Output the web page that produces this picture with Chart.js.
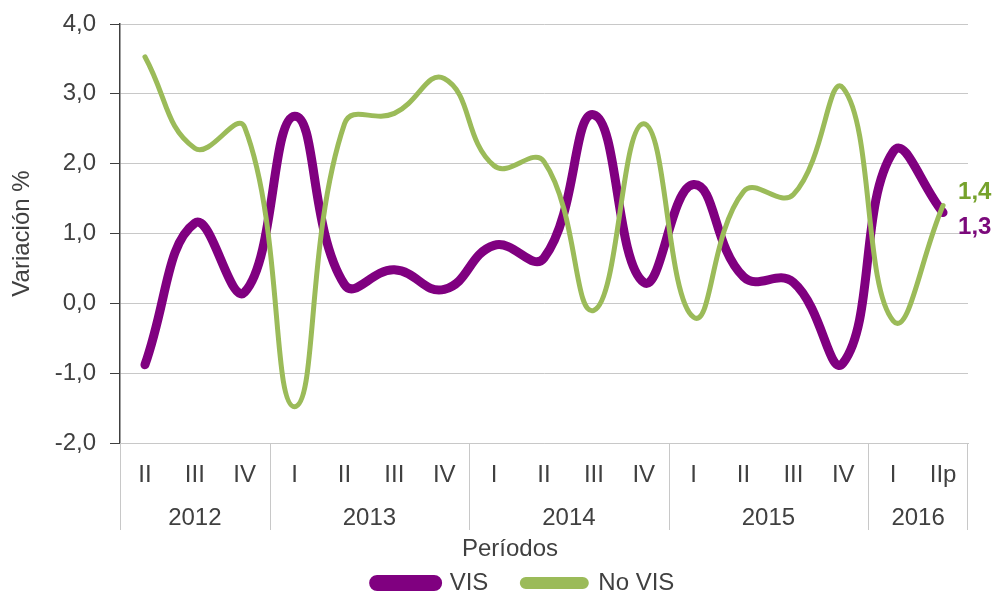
<!DOCTYPE html>
<html>
<head>
<meta charset="utf-8">
<script src="https://cdn.jsdelivr.net/npm/chart.js@4.4.1/dist/chart.umd.min.js"></script>
<style>
  html, body { margin: 0; padding: 0; background: #fff; }
  #wrap { width: 998px; height: 597px; position: relative; }
</style>
</head>
<body>
<div id="wrap"><canvas id="variacionChart"></canvas></div>
<script>
// quarters and years (multi-level category axis)
var quarters = ['II', 'III', 'IV', 'I', 'II', 'III', 'IV', 'I', 'II', 'III', 'IV', 'I', 'II', 'III', 'IV', 'I', 'IIp'];
var years = ['2012', '2013', '2014', '2015', '2016'];
var yearCounts = [3, 4, 4, 4, 2];

// series values (%)
var vis = [-0.88, 1.15, 0.16, 2.68, 0.27, 0.48, 0.2, 0.83, 0.65, 2.7, 0.3, 1.7, 0.38, 0.3, -0.85, 2.17, 1.3];
var noVis = [3.53, 2.22, 2.52, -1.48, 2.57, 2.72, 3.22, 1.97, 2.03, -0.1, 2.57, -0.2, 1.6, 1.56, 3.08, -0.25, 1.4];

var yTicks = [-2, -1, 0, 1, 2, 3, 4];
var xTitle = 'Períodos';
var yTitle = 'Variación %';

var FONT = "'Liberation Sans', Arial, sans-serif";
var TEXT = '#404040';
var PURPLE = '#800080';
var GREEN = '#9BBB59';

function fmt(v) {
    return v.toFixed(1).replace('.', ',');
}

// year row, separators and axis title under the quarter labels
var yearAxis = {
    id: 'yearAxis',
    afterLayout: function (chart) {
        // legend sits a bit left of the plot centre in the original
        chart.legend.left -= 20;
        chart.legend.right -= 20;
    },
    afterDraw: function (chart) {
        var ctx = chart.ctx;
        var x = chart.scales.x;
        var area = chart.chartArea;
        var half = (x.getPixelForValue(1) - x.getPixelForValue(0)) / 2;
        var top = area.bottom;
        var bottom = top + 87;
        ctx.save();
        ctx.strokeStyle = '#c8c8c8';
        ctx.lineWidth = 1;
        ctx.fillStyle = TEXT;
        ctx.font = '24px ' + FONT;
        ctx.textAlign = 'center';
        ctx.textBaseline = 'middle';
        var start = 0;
        for (var i = 0; i < years.length; i++) {
            var end = start + yearCounts[i] - 1;
            var x0 = x.getPixelForValue(start) - half;
            var x1 = x.getPixelForValue(end) + half;
            ctx.beginPath();
            ctx.moveTo(Math.round(x0) + 0.5, top);
            ctx.lineTo(Math.round(x0) + 0.5, bottom);
            if (i === years.length - 1) {
                ctx.moveTo(Math.round(x1) - 0.5, top);
                ctx.lineTo(Math.round(x1) - 0.5, bottom);
            }
            ctx.stroke();
            ctx.fillText(years[i], (x0 + x1) / 2, top + 75);
            start = end + 1;
        }
        ctx.fillText(xTitle, (area.left + area.right) / 2 - 34, top + 106);
        ctx.restore();
    }
};

// last values next to the line ends
var endLabels = {
    id: 'endLabels',
    afterDatasetsDraw: function (chart) {
        var ctx = chart.ctx;
        var x = chart.scales.x;
        var y = chart.scales.y;
        var last = quarters.length - 1;
        var px = x.getPixelForValue(last) + 15;
        ctx.save();
        ctx.font = 'bold 24px ' + FONT;
        ctx.textAlign = 'left';
        ctx.textBaseline = 'middle';
        ctx.fillStyle = '#76A22C';
        ctx.fillText(fmt(noVis[last]), px, y.getPixelForValue(noVis[last]) - 13);
        ctx.fillStyle = '#7B0A7B';
        ctx.fillText(fmt(vis[last]), px, y.getPixelForValue(vis[last]) + 15);
        ctx.restore();
    }
};

new Chart(document.getElementById('variacionChart'), {
    type: 'line',
    data: {
        labels: quarters,
        datasets: [{
            label: 'VIS',
            data: vis,
            borderColor: PURPLE,
            backgroundColor: PURPLE,
            borderWidth: 9,
            borderCapStyle: 'round',
            tension: 0.45,
            pointRadius: 0,
            fill: false,
            order: 1
        }, {
            label: 'No VIS',
            data: noVis,
            borderColor: GREEN,
            backgroundColor: GREEN,
            borderWidth: 5,
            borderCapStyle: 'round',
            tension: 0.45,
            pointRadius: 0,
            fill: false,
            order: 0
        }]
    },
    plugins: [yearAxis, endLabels],
    options: {
        responsive: true,
        maintainAspectRatio: false,
        animation: false,
        layout: { padding: { top: 24, right: 30, left: 0, bottom: -8 } },
        plugins: {
            tooltip: { enabled: false },
            legend: {
                position: 'bottom',
                fullSize: false,
                labels: {
                    font: { family: FONT, size: 24 },
                    color: TEXT,
                    boxWidth: 64,
                    boxHeight: 7,
                    useBorderRadius: true,
                    borderRadius: 3.5,
                    padding: 34,
                    sort: function (a, b) { return a.datasetIndex - b.datasetIndex; }
                }
            }
        },
        scales: {
            x: {
                offset: true,
                grid: { display: false },
                border: { display: true, color: '#c8c8c8', width: 1 },
                ticks: {
                    font: { family: FONT, size: 24 },
                    color: TEXT,
                    padding: 10,
                    maxRotation: 0,
                    autoSkip: false
                },
                afterFit: function (scale) { scale.height = 94; }
            },
            y: {
                min: yTicks[0],
                max: yTicks[yTicks.length - 1],
                afterBuildTicks: function (scale) {
                    scale.ticks = yTicks.map(function (v) { return { value: v }; });
                },
                grid: { color: '#c8c8c8', lineWidth: 1, tickColor: TEXT, tickLength: 10 },
                border: { color: TEXT, width: 1.5 },
                ticks: {
                    font: { family: FONT, size: 24, lineHeight: 0.8 },
                    color: TEXT,
                    padding: 14,
                    callback: function (v) { return fmt(v); }
                },
                title: {
                    display: true,
                    text: yTitle,
                    font: { family: FONT, size: 24 },
                    color: TEXT,
                    padding: { top: 8, bottom: 0 }
                },
                afterFit: function (scale) { scale.width = 120; }
            }
        }
    }
});
</script>
</body>
</html>
